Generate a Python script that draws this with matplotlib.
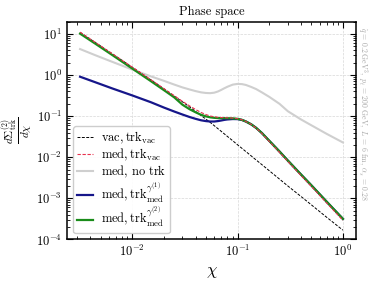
import matplotlib

matplotlib.use("Agg")

import matplotlib.pyplot as plt

plt.rcParams["font.family"] = "serif"
plt.rcParams["font.serif"] = ["cmr10"]
plt.rcParams["mathtext.fontset"] = "cm"
plt.rcParams["axes.formatter.use_mathtext"] = True

chi = [0.0032, 0.0045, 0.0065, 0.01, 0.015, 0.02, 0.025, 0.03, 0.035, 0.04, 0.045,
       0.05, 0.055, 0.06, 0.065, 0.07, 0.075, 0.08, 0.09, 0.1, 0.11, 0.12, 0.135,
       0.15, 0.17, 0.2, 0.25, 0.3, 0.4, 0.5, 0.7, 1.0]

vac_trk_vac = [10.96, 6.14, 3.27, 1.556, 0.769, 0.463, 0.311, 0.223, 0.168, 0.130, 0.1038,
               0.0851, 0.0705, 0.0589, 0.0498, 0.0427, 0.0369, 0.0322, 0.0252, 0.0201, 0.0165,
               0.01374, 0.01074, 0.00859, 0.00662, 0.0047, 0.00294, 0.002, 0.00111, 7.0e-4,
               3.47e-4, 1.68e-4]
med_trk_vac = [11.1, 6.17, 3.28, 1.563, 0.776, 0.468, 0.316, 0.229, 0.178, 0.145, 0.123,
               0.1096, 0.101, 0.0966, 0.094, 0.0927, 0.0918, 0.0912, 0.0897, 0.0871, 0.0817,
               0.0741, 0.063, 0.0513, 0.038, 0.0243, 0.0132, 0.00794, 0.00359, 0.00197,
               7.76e-4, 2.92e-4]
med_no_trk = [4.3, 3.02, 2.09, 1.365, 0.933, 0.724, 0.589, 0.501, 0.447, 0.407, 0.38,
              0.367, 0.363, 0.373, 0.398, 0.436, 0.479, 0.519, 0.586, 0.61, 0.603,
              0.575, 0.513, 0.457, 0.38, 0.295, 0.2, 0.132, 0.0832, 0.0603, 0.0372, 0.0229]
med_trk_g1 = [0.912, 0.664, 0.471, 0.32, 0.219, 0.162, 0.130, 0.1096, 0.0955, 0.0861, 0.0794,
              0.0759, 0.0741, 0.0741, 0.0759, 0.0785, 0.0813, 0.0832, 0.0851, 0.0847, 0.0809,
              0.0741, 0.063, 0.0519, 0.0389, 0.0251, 0.0138, 0.0083, 0.0038, 0.00209,
              8.3e-4, 3.16e-4]
med_trk_g2 = [10.2, 5.73, 3.05, 1.445, 0.715, 0.43, 0.288, 0.19, 0.148, 0.124, 0.108,
              0.0989, 0.0938, 0.0912, 0.0899, 0.0895, 0.0895, 0.0893, 0.0885, 0.0861, 0.0813,
              0.0741, 0.063, 0.0519, 0.0389, 0.0251, 0.0138, 0.0083, 0.0038, 0.00209,
              8.3e-4, 3.16e-4]

labels = [
    r"$\mathrm{vac, trk_{vac}}$",
    r"$\mathrm{med, trk_{vac}}$",
    r"$\mathrm{med,\,no\ trk}$",
    r"$\mathrm{med, trk}^{\gamma^{(1)}}_{\mathrm{med}}$",
    r"$\mathrm{med, trk}^{\gamma^{(2)}}_{\mathrm{med}}$",
]

fig = plt.figure(figsize=(3.74, 2.81), dpi=100)
ax = fig.add_axes([0.179, 0.148, 0.773, 0.775])

ax.plot(chi, vac_trk_vac, color="black", ls=(0, (3, 1.5)), lw=0.7, label=labels[0], zorder=3)
ax.plot(chi, med_trk_vac, color="#e8324f", ls=(0, (3, 1.5)), lw=0.8, label=labels[1], zorder=5)
ax.plot(chi, med_no_trk, color="#cfcfcf", lw=1.5, label=labels[2], zorder=2)
ax.plot(chi, med_trk_g1, color="#16168a", lw=1.6, label=labels[3], zorder=3)
ax.plot(chi, med_trk_g2, color="#1a8c1a", lw=1.6, label=labels[4], zorder=4)

ax.set_xscale("log")
ax.set_yscale("log")
ax.set_ylim(1e-4, 20)
ax.set_title("Phase space", fontsize=9, pad=5)
ax.set_xlabel(r"$\chi$", fontsize=12, labelpad=4)
ax.set_ylabel(r"$\frac{d\Sigma^{(2)}_{\rm trk}}{d\chi}$", fontsize=11.5, labelpad=1)
ax.tick_params(which="both", direction="in", top=True, right=True, labelsize=9)
ax.tick_params(which="major", length=4, width=0.8)
ax.tick_params(which="minor", length=2, width=0.6)
ax.grid(True, which="major", ls="--", lw=0.5, color="#d8d8d8")
for s in ax.spines.values():
    s.set_linewidth(1.1)

ax.legend(loc="lower left", fontsize=9, handlelength=1.3, handletextpad=0.6,
          labelspacing=0.05, borderpad=0.3, frameon=True, framealpha=0.9,
          edgecolor="#c8c8c8")

fig.text(0.968, 0.905,
         r"$\hat{q}\,=\,0.2\,\mathrm{GeV}^3,\ p_t\,=\,200\ \mathrm{GeV},\ L\,=\,6\ \mathrm{fm},\ \alpha_s\,=\,0.28$",
         rotation=270, ha="center", va="top", fontsize=5.6, color="#a8a8a8")

fig.savefig("out.png", dpi=100)
